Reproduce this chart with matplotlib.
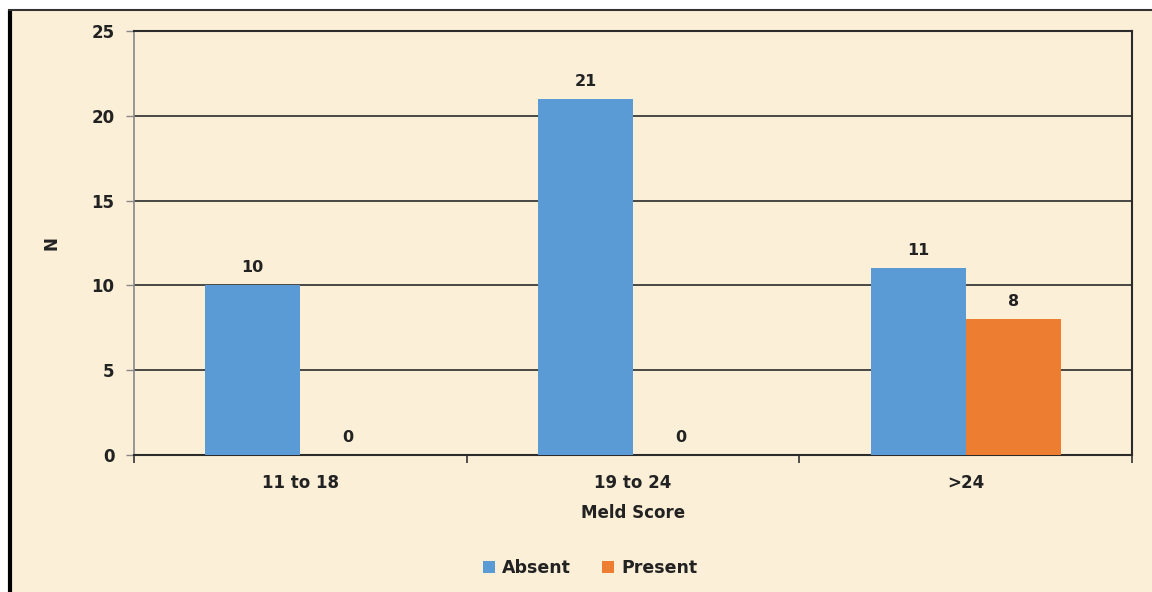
import numpy as np
import matplotlib.pyplot as plt
from matplotlib.lines import Line2D
from matplotlib.patches import Rectangle

categories = ["11 to 18", "19 to 24", ">24"]
absent = [10, 21, 11]
present = [0, 0, 8]

blue = "#5B9BD5"
orange = "#ED7D31"
bg = "#FBEFD7"
txt = "#222222"

plt.rcParams["font.family"] = ["DejaVu Sans"]
plt.rcParams["font.weight"] = "bold"

fig = plt.figure(figsize=(11.52, 5.92), dpi=100)
fig.patch.set_facecolor("white")
fig.add_artist(Rectangle((8 / 1152, 0), 1, 1 - 10 / 592, transform=fig.transFigure,
                         facecolor=bg, edgecolor="none", zorder=-10))
fig.add_artist(Line2D([9.5 / 1152, 9.5 / 1152], [0, 1 - 10 / 592], transform=fig.transFigure,
                      color="black", lw=3, solid_capstyle="butt"))
fig.add_artist(Line2D([8 / 1152, 1], [1 - 10 / 592, 1 - 10 / 592], transform=fig.transFigure,
                      color="#333333", lw=1.5, solid_capstyle="butt"))

ax = fig.add_axes([134 / 1152, 1 - 455 / 592, 998 / 1152, 424 / 592])
ax.set_facecolor("none")

x = np.arange(len(categories))
w = 0.286
ax.bar(x - w / 2, absent, w, color=blue, label="Absent", zorder=3)
ax.bar(x + w / 2, present, w, color=orange, label="Present", zorder=3)

for xi, v in zip(x - w / 2, absent):
    ax.text(xi, v + 0.6, str(v), ha="center", va="bottom", fontsize=11.5, color=txt, fontweight="bold")
for xi, v in zip(x + w / 2, present):
    ax.text(xi, v + 0.6, str(v), ha="center", va="bottom", fontsize=11.5, color=txt, fontweight="bold")

ax.set_xlim(-0.5, 2.5)
ax.set_ylim(0, 25)
ax.set_yticks([0, 5, 10, 15, 20, 25])
ax.yaxis.grid(True, color="#2b2b2b", lw=1.2, zorder=0)
ax.set_axisbelow(True)

ax.set_xticks(x)
ax.set_xticklabels(categories)
ax.set_xticks([-0.5, 0.5, 1.5, 2.5], minor=True)
ax.tick_params(axis="x", which="major", length=0, pad=14, labelsize=12, labelcolor=txt)
ax.tick_params(axis="x", which="minor", length=6, width=1.2, color="#333333", direction="out")
ax.tick_params(axis="y", length=6, width=1, color="#888888", pad=8, labelsize=12, labelcolor=txt)

for lab in ax.get_xticklabels() + ax.get_yticklabels():
    lab.set_fontweight("bold")

ax.spines["left"].set_color("#888888")
ax.spines["left"].set_linewidth(1.2)
for s in ["right", "bottom", "top"]:
    ax.spines[s].set_color("#2b2b2b")
    ax.spines[s].set_linewidth(1.5)

ax.set_ylabel("N", fontsize=12, fontweight="bold", color=txt)
ax.yaxis.set_label_coords(-0.074, 0.5)
ax.set_xlabel("Meld Score", fontsize=12, fontweight="bold", color=txt)
ax.xaxis.set_label_coords(0.5, -0.137)
ax.xaxis.label.set_va("center")

leg = fig.legend(loc="center", bbox_to_anchor=(590 / 1152, 1 - 568 / 592), ncol=2, frameon=False,
                 fontsize=12.5, handlelength=0.7, handleheight=0.7, columnspacing=1.8, handletextpad=0.4)
for t in leg.get_texts():
    t.set_color(txt)

fig.savefig("out.png", dpi=100, facecolor=fig.get_facecolor())
